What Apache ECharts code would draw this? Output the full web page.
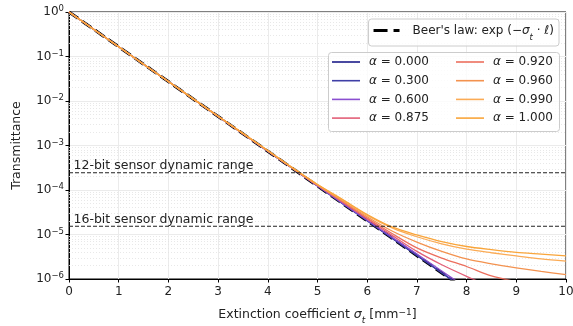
<!DOCTYPE html>
<html>
<head>
<meta charset="utf-8">
<script src="https://cdn.jsdelivr.net/npm/echarts@6.0.0/dist/echarts.min.js"></script>
<style>
  html, body { margin: 0; padding: 0; background: #fff; }
  #chart { width: 573px; height: 326px; }
</style>
</head>
<body>
<div id="chart"></div>
<script>
// values
const alphaNames = ['0.000', '0.300', '0.600', '0.875', '0.920', '0.960', '0.990', '1.000'];
const alphaColors = ['#1c1c8a', '#3f3fa6', '#8a4fd0', '#e35f78', '#ec6f5e', '#f3924f', '#fbab55', '#f9a53a'];

const xs = [0, 1, 2, 3, 4, 4.5, 5, 5.5, 6, 6.5, 7, 7.5, 8, 8.5, 9, 9.5, 10];

const t000 = [1, 0.165, 0.0273, 4.51e-3, 7.45e-4, 3.03e-4, 1.23e-4, 5.0e-5, 2.03e-5, 8.26e-6, 3.36e-6, 1.36e-6, 5.55e-7];
const t300 = [1, 0.165, 0.0273, 4.51e-3, 7.45e-4, 3.03e-4, 1.23e-4, 5.0e-5, 2.04e-5, 8.3e-6, 3.4e-6, 1.38e-6, 5.65e-7];
const t600 = [1, 0.165, 0.0273, 4.51e-3, 7.46e-4, 3.04e-4, 1.24e-4, 5.07e-5, 2.09e-5, 8.7e-6, 3.63e-6, 1.51e-6, 6.3e-7];
const t875 = [1, 0.165, 0.0273, 4.52e-3, 7.5e-4, 3.06e-4, 1.26e-4, 5.37e-5, 2.24e-5, 9.55e-6, 4.17e-6, 2.09e-6, 1.15e-6, 6.6e-7];
const t920 = [1, 0.165, 0.0274, 4.53e-3, 7.55e-4, 3.08e-4, 1.29e-4, 5.5e-5, 2.34e-5, 1.05e-5, 5.0e-6, 2.95e-6, 1.91e-6, 1.17e-6, 8.7e-7];
const t960 = [1, 0.165, 0.0274, 4.54e-3, 7.6e-4, 3.1e-4, 1.30e-4, 5.75e-5, 2.51e-5, 1.20e-5, 6.76e-6, 4.17e-6, 2.82e-6, 2.19e-6, 1.78e-6, 1.48e-6, 1.26e-6];
const t990 = [1, 0.165, 0.0274, 4.55e-3, 7.65e-4, 3.12e-4, 1.32e-4, 6.03e-5, 2.69e-5, 1.41e-5, 8.9e-6, 6.17e-6, 4.68e-6, 3.89e-6, 3.31e-6, 2.82e-6, 2.51e-6];
const t1000 = [1, 0.165, 0.0274, 4.55e-3, 7.7e-4, 3.14e-4, 1.33e-4, 6.17e-5, 2.82e-5, 1.48e-5, 9.8e-6, 6.92e-6, 5.37e-6, 4.57e-6, 3.98e-6, 3.63e-6, 3.31e-6];
const alphaT = [t000, t300, t600, t875, t920, t960, t990, t1000];

const beerX = [0, 2, 4, 6, 8];
const beerT = [1, 0.0273, 7.45e-4, 2.03e-5, 5.55e-7];

const sensorLevels = [2.44e-4, 1.53e-5];
const sensorLabels = ['12-bit sensor dynamic range', '16-bit sensor dynamic range'];

const xTicks = [0, 1, 2, 3, 4, 5, 6, 7, 8, 9, 10];

const FONT = 'DejaVu Sans';
const FS = 12;
const chart = echarts.init(document.getElementById('chart'));

function pairs(x, y) {
    const out = [];
    for (let i = 0; i < y.length; i++) out.push([x[i], y[i]]);
    return out;
}

// minor log grid lines (2..9 in every decade)
const minorLines = [];
for (let e = -6; e < 0; e++) {
    for (let m = 2; m <= 9; m++) minorLines.push({ yAxis: m * Math.pow(10, e) });
}

const series = [];
series.push({
    name: 'beer', type: 'line', data: pairs(beerX, beerT),
    symbol: 'none', z: 2, color: '#000',
    lineStyle: { color: '#000', width: 3, type: [11, 5] },
    markLine: {
        silent: true, symbol: 'none', z: 1, animation: false, precision: 12,
        label: { show: false },
        lineStyle: { color: '#e2e2e2', width: 0.8, type: [1, 2] },
        data: minorLines
    }
});
alphaNames.forEach((n, i) => {
    series.push({
        name: 'α = ' + n, type: 'line', data: pairs(xs, alphaT[i]),
        symbol: 'none', smooth: 0.3, z: 3,
        color: alphaColors[i],
        lineStyle: { color: alphaColors[i], width: 1.3 }
    });
});
// sensor dynamic range levels, drawn as flat lines across the axis
sensorLevels.forEach((v, k) => {
    series.push({
        name: sensorLabels[k], type: 'line', z: 4, silent: true,
        symbol: 'circle', symbolSize: 1, showSymbol: true,
        itemStyle: { color: 'rgba(0,0,0,0)' },
        lineStyle: { color: '#222', width: 1.1, type: [4, 2] },
        data: [
            {
                value: [0, v],
                label: {
                    show: true, position: [5, -13], align: 'left',
                    fontFamily: FONT, fontSize: 12.5, color: '#222',
                    formatter: () => sensorLabels[k]
                }
            },
            { value: [10, v] }
        ]
    });
});

const legendBase = {
    selectedMode: false,
    icon: 'rect', itemWidth: 28, itemHeight: 1.6, itemGap: 4.7,
    orient: 'vertical', padding: 0,
    textStyle: {
        fontFamily: FONT, fontSize: FS, color: '#222', lineHeight: 14, padding: [0, 0, 0, 4],
        rich: { i: { fontFamily: FONT, fontSize: FS, fontStyle: 'italic', color: '#222' } }
    },
    formatter: name => '{i|α} = ' + name.split('= ')[1]
};

const option = {
    animation: false,
    backgroundColor: '#fff',
    grid: {
        left: 69, right: 7, top: 12, bottom: 47,
        containLabel: false, outerBoundsMode: 'none',
        show: true, borderColor: '#000', borderWidth: 1
    },
    xAxis: {
        type: 'value', min: 0, max: 10, interval: 1,
        name: 'Extinction coefficient {i|σ}{sub|t} [mm{sup|−1}]',
        nameLocation: 'middle', nameGap: 29,
        nameTextStyle: {
            fontFamily: FONT, fontSize: 12.5, color: '#222',
            rich: {
                i: { fontFamily: FONT, fontSize: 12.5, fontStyle: 'italic', color: '#222' },
                sub: { fontFamily: FONT, fontSize: 9, fontStyle: 'italic', color: '#222', verticalAlign: 'bottom', padding: [0, 0, -4, 0] },
                sup: { fontFamily: FONT, fontSize: 9, color: '#222', verticalAlign: 'top', padding: [0, 0, 4, 0] }
            }
        },
        axisLine: { lineStyle: { color: '#000', width: 1 } },
        axisTick: { show: true, inside: false, length: 3.5, lineStyle: { color: '#000' } },
        axisLabel: {
            fontFamily: FONT, fontSize: FS, color: '#222', margin: 7,
            formatter: v => (xTicks.indexOf(v) >= 0 ? String(v) : '')
        },
        splitLine: { show: true, lineStyle: { color: '#ebebeb', width: 1 } }
    },
    yAxis: {
        type: 'log', logBase: 10, min: 1e-6, max: 1, interval: 1,
        name: 'Transmittance', nameLocation: 'middle', nameGap: 46, nameRotate: 90,
        nameTextStyle: { fontFamily: FONT, fontSize: 12.5, color: '#222' },
        axisLine: { show: true, lineStyle: { color: '#000', width: 1 } },
        axisTick: { show: true, inside: false, length: 3.5, lineStyle: { color: '#000' } },
        axisLabel: {
            fontFamily: FONT, fontSize: FS, color: '#222', margin: 5,
            formatter: v => {
                const e = Math.round(Math.log10(v));
                return '{b|10}{s|' + (e < 0 ? '−' + (-e) : e) + '}';
            },
            rich: {
                b: { fontFamily: FONT, fontSize: FS, color: '#222' },
                s: { fontFamily: FONT, fontSize: 8.5, color: '#222', verticalAlign: 'top', padding: [0, 0, 6, 0] }
            }
        },
        splitLine: { show: true, lineStyle: { color: '#ebebeb', width: 1 } }
    },
    graphic: [{
        type: 'rect', left: 328, top: 52, z: 3,
        shape: { width: 231, height: 79, r: 3 },
        style: { fill: 'rgba(255,255,255,0.8)', stroke: '#cccccc', lineWidth: 1 }
    }],
    legend: [
        {
            selectedMode: false, data: ['beer'],
            right: 14, top: 19, orient: 'horizontal',
            icon: 'path://M0,0H14V3H0Z M20,0H26V3H20Z',
            itemWidth: 26, itemHeight: 3,
            padding: [4, 5, 4, 5],
            backgroundColor: 'rgba(255,255,255,0.8)', borderColor: '#cccccc', borderWidth: 1, borderRadius: 3,
            textStyle: {
                fontFamily: FONT, fontSize: FS, color: '#222', padding: [0, 0, 0, 8], lineHeight: 15,
                rich: {
                    i: { fontFamily: FONT, fontSize: FS, fontStyle: 'italic', color: '#222' },
                    sub: { fontFamily: FONT, fontSize: 8.5, fontStyle: 'italic', color: '#222', verticalAlign: 'bottom', padding: [0, 0, -4, 0] }
                }
            },
            formatter: () => "Beer's law: exp (−{i|σ}{sub|t} · {i|ℓ})"
        },
        Object.assign({}, legendBase, { left: 332, top: 55, data: alphaNames.slice(0, 4).map(n => 'α = ' + n) }),
        Object.assign({}, legendBase, { left: 456, top: 55, data: alphaNames.slice(4).map(n => 'α = ' + n) })
    ],
    series: series
};

chart.setOption(option);
</script>
</body>
</html>
